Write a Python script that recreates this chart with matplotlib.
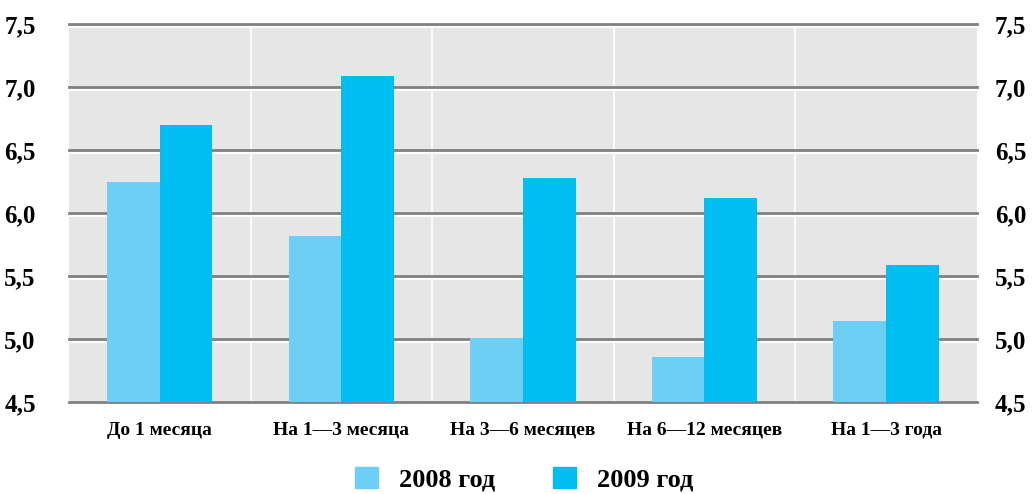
import matplotlib
matplotlib.use('Agg')
import matplotlib.pyplot as plt
import matplotlib.patheffects as pe
from matplotlib.patches import Patch
import numpy as np

categories = ['До 1 месяца', 'На 1—3 месяца', 'На 3—6 месяцев', 'На 6—12 месяцев', 'На 1—3 года']
vals_2008 = [6.25, 5.82, 5.01, 4.86, 5.14]
vals_2009 = [6.70, 7.09, 6.28, 6.12, 5.59]
series_names = ['2008 год', '2009 год']
yticks = [4.5, 5.0, 5.5, 6.0, 6.5, 7.0, 7.5]
ytick_labels = ['4,5', '5,0', '5,5', '6,0', '6,5', '7,0', '7,5']

c08 = '#6dcff6'
c09 = '#00bef2'
font = dict(family='Liberation Serif', weight='bold')

fig = plt.figure(figsize=(10.34, 4.94), dpi=100)
ax = fig.add_axes([0.0667, 0.186, 0.878, 0.765])
ax.set_facecolor('#e6e6e6')

x = np.arange(len(categories))
w = 0.29
ax.bar(x - w / 2, vals_2008, w, color=c08, zorder=3)
ax.bar(x + w / 2, vals_2009, w, color=c09, zorder=3)

ax.set_xlim(-0.5, len(categories) - 0.5)
ax.set_ylim(4.5, 7.5)

# white separators between groups
for b in np.arange(0.5, len(categories) - 0.5, 1):
    ax.axvline(b, color='white', lw=1.2, zorder=1)

# grey gridlines with a white highlight underneath
for t in yticks:
    ax.axhline(t, color='#808080', lw=2, zorder=2, clip_on=False,
               path_effects=[pe.SimpleLineShadow(offset=(0, -1.6), shadow_color='white', alpha=1, rho=1),
                             pe.Normal()])

for s in ax.spines.values():
    s.set_visible(False)

ax.set_yticks(yticks)
ax.set_yticklabels(ytick_labels, fontsize=18, **font)
ax.tick_params(axis='y', length=0, pad=24)
ax.set_xticks(x)
ax.set_xticklabels(categories, fontsize=14, **font)
ax.tick_params(axis='x', length=0, pad=14)

ax2 = ax.twinx()
ax2.set_ylim(ax.get_ylim())
ax2.set_yticks(yticks)
ax2.set_yticklabels(ytick_labels, fontsize=18, **font)
ax2.tick_params(axis='y', length=0, pad=13)
for s in ax2.spines.values():
    s.set_visible(False)

handles = [Patch(color=c08, label=series_names[0]), Patch(color=c09, label=series_names[1])]
fig.legend(handles=handles, loc='lower center', bbox_to_anchor=(0.507, 0.0), ncol=2, frameon=False,
           borderpad=0.1, borderaxespad=0,
           prop=dict(size=19, **font), handlelength=0.87, handleheight=0.87, columnspacing=2.2,
           handletextpad=0.8)

fig.savefig('out.png', dpi=100)
